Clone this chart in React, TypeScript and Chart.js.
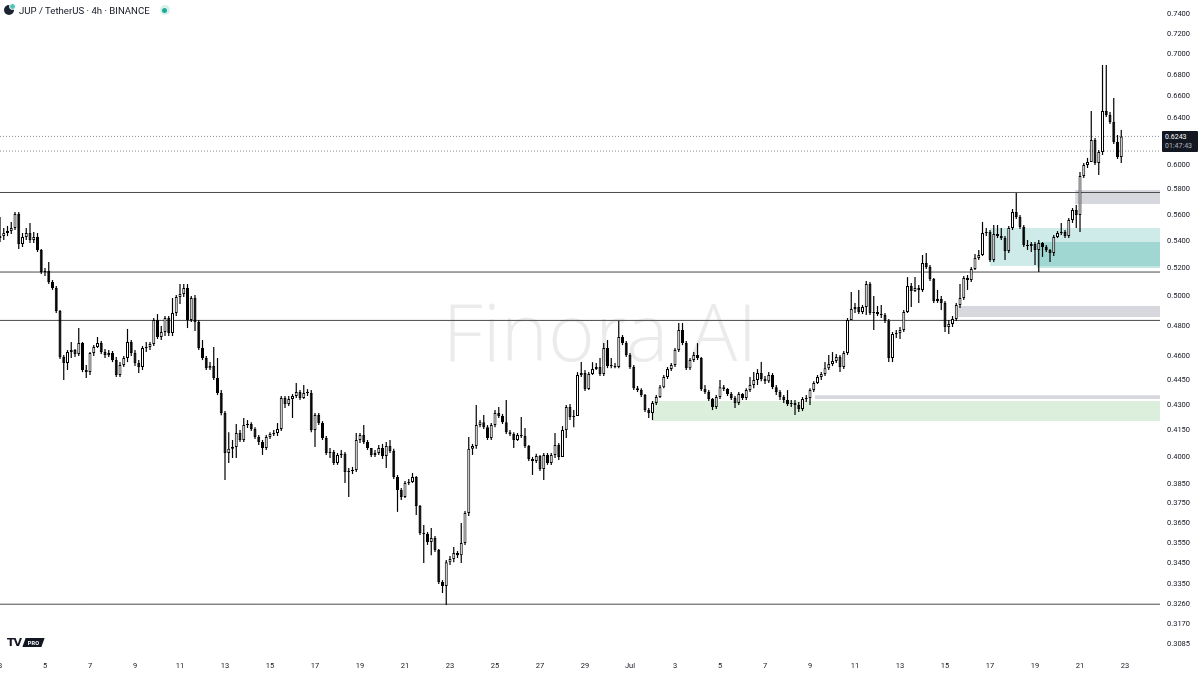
import React, { useEffect, useRef } from "react";
import { Chart, registerables } from "chart.js";

Chart.register(...registerables);

// ---- data (4h candles, JUP/USDT, Jun 3 00:00 -> Jul 22 20:00) ----
const firstOpen = 0.5421;

const closes: number[] = [
  0.5436, 0.5459, 0.5474, 0.5497, 0.5605, 0.5376, 0.5429, 0.5459, 0.5406, 0.5429,
  0.5332, 0.5172, 0.5179, 0.5100, 0.5058, 0.4898, 0.4595, 0.4557, 0.4627, 0.4640,
  0.4614, 0.4685, 0.4513, 0.4500, 0.4621, 0.4660, 0.4685, 0.4627, 0.4608, 0.4621,
  0.4576, 0.4482, 0.4544, 0.4589, 0.4692, 0.4621, 0.4557, 0.4532, 0.4653, 0.4660,
  0.4679, 0.4838, 0.4725, 0.4758, 0.4851, 0.4751, 0.4885, 0.4995, 0.5016, 0.5058,
  0.4838, 0.4988, 0.4825, 0.4653, 0.4589, 0.4525, 0.4538, 0.4463, 0.4371, 0.4251,
  0.4022, 0.4045, 0.4056, 0.4135, 0.4095, 0.4181, 0.4187, 0.4158, 0.4112, 0.4084,
  0.4050, 0.4112, 0.4129, 0.4135, 0.4158, 0.4341, 0.4305, 0.4335, 0.4353, 0.4377,
  0.4341, 0.4371, 0.4371, 0.4152, 0.4240, 0.4193, 0.4106, 0.4022, 0.4028, 0.3967,
  0.4011, 0.4017, 0.3917, 0.3923, 0.3928, 0.4095, 0.4124, 0.4084, 0.4050, 0.4011,
  0.4022, 0.4050, 0.4005, 0.4061, 0.4033, 0.3890, 0.3820, 0.3784, 0.3858, 0.3863,
  0.3890, 0.3737, 0.3599, 0.3594, 0.3554, 0.3574, 0.3515, 0.3362, 0.3343, 0.3456,
  0.3471, 0.3500, 0.3490, 0.3549, 0.3700, 0.4045, 0.4061, 0.4181, 0.4198, 0.4169,
  0.4106, 0.4181, 0.4251, 0.4234, 0.4198, 0.4140, 0.4129, 0.4095, 0.4124, 0.4118,
  0.4061, 0.3989, 0.3978, 0.4005, 0.3934, 0.4011, 0.3967, 0.4011, 0.4067, 0.4000,
  0.4152, 0.4287, 0.4228, 0.4234, 0.4482, 0.4494, 0.4395, 0.4488, 0.4519, 0.4532,
  0.4488, 0.4653, 0.4538, 0.4538, 0.4532, 0.4725, 0.4685, 0.4608, 0.4532, 0.4401,
  0.4389, 0.4359, 0.4269, 0.4251, 0.4311, 0.4347, 0.4407, 0.4469, 0.4519, 0.4544,
  0.4640, 0.4771, 0.4685, 0.4525, 0.4576, 0.4608, 0.4589, 0.4395, 0.4377, 0.4335,
  0.4287, 0.4347, 0.4407, 0.4395, 0.4365, 0.4341, 0.4311, 0.4365, 0.4341, 0.4389,
  0.4420, 0.4451, 0.4494, 0.4457, 0.4444, 0.4482, 0.4407, 0.4377, 0.4347, 0.4329,
  0.4305, 0.4311, 0.4299, 0.4275, 0.4335, 0.4341, 0.4389, 0.4432, 0.4469, 0.4488,
  0.4525, 0.4551, 0.4570, 0.4595, 0.4532, 0.4621, 0.4838, 0.4912, 0.4926, 0.4892,
  0.4926, 0.5086, 0.4885, 0.4892, 0.4878, 0.4871, 0.4831, 0.4589, 0.4745, 0.4751,
  0.4771, 0.4892, 0.5072, 0.5037, 0.5058, 0.5044, 0.5236, 0.5207, 0.5121, 0.4967,
  0.4981, 0.4954, 0.4791, 0.4811, 0.4845, 0.4940, 0.4988, 0.5128, 0.5114, 0.5193,
  0.5273, 0.5295, 0.5459, 0.5467, 0.5258, 0.5452, 0.5436, 0.5421, 0.5325, 0.5497,
  0.5621, 0.5582, 0.5505, 0.5369, 0.5361, 0.5376, 0.5332, 0.5384, 0.5354, 0.5332,
  0.5310, 0.5429, 0.5459, 0.5467, 0.5436, 0.5559, 0.5636, 0.5598, 0.5908, 0.6000,
  0.6025, 0.6212, 0.6017, 0.6109, 0.6467, 0.6432, 0.6370, 0.6195, 0.6067, 0.6243,
];

const highs: number[] = [
  0.5582, 0.5497, 0.5513, 0.5544, 0.5621, 0.5621, 0.5459, 0.5497, 0.5536, 0.5467,
  0.5459, 0.5339, 0.5200, 0.5244, 0.5114, 0.5072, 0.4905, 0.4608, 0.4640, 0.4692,
  0.4647, 0.4784, 0.4692, 0.4544, 0.4627, 0.4672, 0.4725, 0.4698, 0.4647, 0.4640,
  0.4634, 0.4595, 0.4563, 0.4602, 0.4778, 0.4705, 0.4640, 0.4576, 0.4666, 0.4692,
  0.4692, 0.4851, 0.4878, 0.4798, 0.4865, 0.4865, 0.4988, 0.5009, 0.5086, 0.5086,
  0.5086, 0.5002, 0.5009, 0.4838, 0.4705, 0.4602, 0.4563, 0.4660, 0.4589, 0.4389,
  0.4263, 0.4140, 0.4095, 0.4187, 0.4152, 0.4222, 0.4210, 0.4198, 0.4169, 0.4124,
  0.4095, 0.4124, 0.4140, 0.4152, 0.4193, 0.4353, 0.4353, 0.4353, 0.4365, 0.4432,
  0.4389, 0.4420, 0.4395, 0.4389, 0.4251, 0.4251, 0.4204, 0.4118, 0.4050, 0.4039,
  0.4022, 0.4039, 0.4028, 0.3939, 0.3945, 0.4135, 0.4135, 0.4181, 0.4095, 0.4050,
  0.4039, 0.4067, 0.4073, 0.4084, 0.4095, 0.4045, 0.3901, 0.3831, 0.3869, 0.3879,
  0.3912, 0.3896, 0.3742, 0.3639, 0.3604, 0.3624, 0.3584, 0.3520, 0.3371, 0.3466,
  0.3486, 0.3530, 0.3510, 0.3649, 0.3711, 0.4112, 0.4073, 0.4299, 0.4210, 0.4240,
  0.4181, 0.4193, 0.4269, 0.4287, 0.4246, 0.4329, 0.4152, 0.4140, 0.4135, 0.4228,
  0.4164, 0.4067, 0.4000, 0.4017, 0.4011, 0.4022, 0.4022, 0.4022, 0.4135, 0.4078,
  0.4175, 0.4299, 0.4305, 0.4269, 0.4500, 0.4563, 0.4513, 0.4500, 0.4563, 0.4557,
  0.4589, 0.4685, 0.4705, 0.4589, 0.4557, 0.4831, 0.4738, 0.4698, 0.4621, 0.4544,
  0.4414, 0.4401, 0.4365, 0.4281, 0.4323, 0.4359, 0.4420, 0.4482, 0.4532, 0.4557,
  0.4653, 0.4818, 0.4818, 0.4698, 0.4589, 0.4627, 0.4685, 0.4595, 0.4420, 0.4389,
  0.4341, 0.4359, 0.4451, 0.4420, 0.4401, 0.4377, 0.4353, 0.4377, 0.4371, 0.4401,
  0.4469, 0.4500, 0.4519, 0.4563, 0.4476, 0.4500, 0.4494, 0.4420, 0.4389, 0.4359,
  0.4389, 0.4329, 0.4329, 0.4317, 0.4347, 0.4359, 0.4401, 0.4444, 0.4482, 0.4500,
  0.4563, 0.4608, 0.4627, 0.4614, 0.4608, 0.4634, 0.4851, 0.5030, 0.4954, 0.5044,
  0.4940, 0.5107, 0.5100, 0.5002, 0.4933, 0.4940, 0.4885, 0.4845, 0.4758, 0.4771,
  0.4791, 0.4905, 0.5135, 0.5093, 0.5135, 0.5079, 0.5295, 0.5310, 0.5222, 0.5128,
  0.5044, 0.5002, 0.4967, 0.4838, 0.4865, 0.4954, 0.5086, 0.5143, 0.5150, 0.5207,
  0.5303, 0.5332, 0.5544, 0.5497, 0.5482, 0.5520, 0.5520, 0.5497, 0.5436, 0.5513,
  0.5644, 0.5771, 0.5598, 0.5520, 0.5406, 0.5391, 0.5391, 0.5406, 0.5391, 0.5369,
  0.5339, 0.5444, 0.5474, 0.5536, 0.5482, 0.5575, 0.5652, 0.5675, 0.5941, 0.6017,
  0.6059, 0.6467, 0.6229, 0.6126, 0.6894, 0.6894, 0.6458, 0.6585, 0.6255, 0.6299,
];

const lows: number[] = [
  0.5391, 0.5406, 0.5436, 0.5452, 0.5482, 0.5339, 0.5354, 0.5406, 0.5384, 0.5384,
  0.5317, 0.5157, 0.5143, 0.5086, 0.5044, 0.4885, 0.4582, 0.4451, 0.4513, 0.4589,
  0.4595, 0.4602, 0.4500, 0.4463, 0.4482, 0.4602, 0.4653, 0.4614, 0.4589, 0.4595,
  0.4563, 0.4469, 0.4469, 0.4532, 0.4563, 0.4602, 0.4538, 0.4494, 0.4513, 0.4627,
  0.4640, 0.4666, 0.4712, 0.4705, 0.4731, 0.4731, 0.4731, 0.4865, 0.4946, 0.4995,
  0.4784, 0.4825, 0.4765, 0.4640, 0.4576, 0.4513, 0.4513, 0.4451, 0.4359, 0.4239,
  0.3874, 0.3966, 0.3994, 0.3994, 0.4084, 0.4084, 0.4164, 0.4146, 0.4101, 0.4067,
  0.4011, 0.4039, 0.4101, 0.4118, 0.4118, 0.4146, 0.4281, 0.4293, 0.4222, 0.4341,
  0.4329, 0.4335, 0.4353, 0.4140, 0.4056, 0.4181, 0.4095, 0.4011, 0.3994, 0.3956,
  0.3956, 0.3994, 0.3858, 0.3783, 0.3906, 0.3917, 0.4078, 0.4073, 0.4039, 0.4000,
  0.4000, 0.4011, 0.3989, 0.3939, 0.4022, 0.3879, 0.3706, 0.3768, 0.3778, 0.3847,
  0.3858, 0.3690, 0.3589, 0.3452, 0.3540, 0.3490, 0.3505, 0.3353, 0.3311, 0.3256,
  0.3442, 0.3456, 0.3476, 0.3452, 0.3540, 0.3685, 0.4011, 0.4045, 0.4169, 0.4158,
  0.4095, 0.4095, 0.4169, 0.4222, 0.4187, 0.4129, 0.4118, 0.4050, 0.4090, 0.4106,
  0.4050, 0.3978, 0.3901, 0.3967, 0.3923, 0.3874, 0.3956, 0.3956, 0.3994, 0.3983,
  0.4039, 0.4106, 0.4210, 0.4169, 0.4246, 0.4469, 0.4383, 0.4389, 0.4482, 0.4513,
  0.4476, 0.4476, 0.4525, 0.4525, 0.4525, 0.4525, 0.4672, 0.4595, 0.4519, 0.4389,
  0.4377, 0.4347, 0.4257, 0.4222, 0.4210, 0.4299, 0.4341, 0.4401, 0.4457, 0.4507,
  0.4532, 0.4627, 0.4672, 0.4513, 0.4513, 0.4563, 0.4576, 0.4383, 0.4365, 0.4323,
  0.4269, 0.4275, 0.4335, 0.4383, 0.4353, 0.4329, 0.4281, 0.4299, 0.4329, 0.4329,
  0.4377, 0.4401, 0.4420, 0.4444, 0.4426, 0.4432, 0.4395, 0.4359, 0.4329, 0.4311,
  0.4293, 0.4287, 0.4240, 0.4257, 0.4263, 0.4317, 0.4299, 0.4377, 0.4426, 0.4451,
  0.4476, 0.4513, 0.4538, 0.4557, 0.4500, 0.4519, 0.4608, 0.4838, 0.4885, 0.4878,
  0.4878, 0.4871, 0.4871, 0.4771, 0.4865, 0.4851, 0.4818, 0.4563, 0.4563, 0.4718,
  0.4712, 0.4758, 0.4885, 0.4926, 0.5030, 0.4954, 0.5030, 0.5193, 0.5107, 0.4954,
  0.4954, 0.4905, 0.4758, 0.4745, 0.4791, 0.4831, 0.4919, 0.4974, 0.5044, 0.5100,
  0.5185, 0.5258, 0.5288, 0.5436, 0.5244, 0.5244, 0.5421, 0.5406, 0.5258, 0.5310,
  0.5482, 0.5567, 0.5490, 0.5354, 0.5332, 0.5317, 0.5222, 0.5172, 0.5281, 0.5317,
  0.5244, 0.5288, 0.5421, 0.5444, 0.5421, 0.5421, 0.5536, 0.5497, 0.5467, 0.5892,
  0.5975, 0.6025, 0.6000, 0.5917, 0.6084, 0.6414, 0.6352, 0.6178, 0.6050, 0.6017,
];

const priceTicks: number[] = [
  0.74, 0.72, 0.7, 0.68, 0.66, 0.64, 0.6, 0.58, 0.56, 0.54, 0.52, 0.5, 0.48, 0.46,
  0.445, 0.43, 0.415, 0.4, 0.385, 0.375, 0.365, 0.355, 0.345, 0.335, 0.326, 0.317, 0.3085,
];

const dateLabels: string[] = [
  "3", "5", "7", "9", "11", "13", "15", "17", "19", "21", "23", "25", "27", "29",
  "Jul", "3", "5", "7", "9", "11", "13", "15", "17", "19", "21", "23",
];
const candlesPerLabel = 12; // 2 days of 4h candles

const levelPrices: number[] = [0.5775, 0.5171, 0.4835, 0.326];

// zones: start candle index, top price, bottom price
const zoneStarts: number[] = [286.7, 264, 276.5, 255.5, 217.3, 174];
const zoneTops: number[] = [0.5795, 0.5497, 0.5391, 0.4933, 0.4358, 0.4323];
const zoneBottoms: number[] = [0.5684, 0.5214, 0.52, 0.4858, 0.4335, 0.4205];

const lastPrice = 0.6243;
const secondPrice = 0.6117;
const countdown = "01:47:43";

const Y_MIN = 0.3038;
const Y_MAX = 0.7545;
const X_MAX = 309.33;

const zoneColors = [
  "rgba(150,153,165,0.38)",
  "rgba(38,166,154,0.22)",
  "rgba(38,166,154,0.28)",
  "rgba(150,153,165,0.38)",
  "rgba(150,153,165,0.38)",
  "rgba(76,175,80,0.2)",
];

const watermark = {
  id: "watermark",
  beforeDatasetsDraw(chart: any) {
    const { ctx } = chart;
    ctx.save();
    ctx.font = '300 80px "Open Sans", sans-serif';
    ctx.fillStyle = "rgba(0,0,0,0.08)";
    ctx.textAlign = "center";
    ctx.textBaseline = "middle";
    ctx.fillText("Finora AI", 600, 338);
    ctx.restore();
  },
};

export default function App() {
  const ref = useRef<HTMLCanvasElement>(null);

  useEffect(() => {
    document.body.style.margin = "0";
    const canvas = ref.current;
    if (!canvas) return;

    const opens = closes.map((_, i) => (i === 0 ? firstOpen : closes[i - 1]));
    const bodies = closes.map((c, i) => ({ x: i, y: [opens[i], c] }));
    const wicks = closes.map((_, i) => ({ x: i, y: [lows[i], highs[i]] }));
    const bodyFill = closes.map((c, i) => (c >= opens[i] ? "#ffffff" : "#000000"));

    const datasets: any[] = [
      {
        type: "bar",
        data: bodies,
        backgroundColor: bodyFill,
        borderColor: "#000000",
        borderWidth: 1,
        borderSkipped: false,
        barThickness: 3,
        grouped: false,
        minBarLength: 1,
        inflateAmount: 0,
        order: 0,
      },
      {
        type: "bar",
        data: wicks,
        backgroundColor: "#000000",
        borderWidth: 0,
        barThickness: 1.2,
        grouped: false,
        inflateAmount: 0,
        order: 1,
      },
    ];

    levelPrices.forEach((p) => {
      datasets.push({
        type: "line",
        data: [{ x: 0, y: p }, { x: X_MAX, y: p }],
        borderColor: "#4a4a4a",
        borderWidth: 1,
        pointRadius: 0,
        fill: false,
        order: 2,
      });
    });

    [lastPrice, secondPrice].forEach((p) => {
      datasets.push({
        type: "line",
        data: [{ x: 0, y: p }, { x: X_MAX, y: p }],
        borderColor: "#8a8d96",
        borderWidth: 1,
        borderDash: [1, 2],
        pointRadius: 0,
        fill: false,
        order: 3,
      });
    });

    zoneStarts.forEach((s, k) => {
      datasets.push({
        type: "line",
        data: [{ x: s, y: zoneTops[k] }, { x: X_MAX, y: zoneTops[k] }],
        borderWidth: 0,
        pointRadius: 0,
        backgroundColor: zoneColors[k],
        fill: "+1",
        order: 10,
      });
      datasets.push({
        type: "line",
        data: [{ x: s, y: zoneBottoms[k] }, { x: X_MAX, y: zoneBottoms[k] }],
        borderWidth: 0,
        pointRadius: 0,
        fill: false,
        order: 10,
      });
    });

    const tickFont = { family: "Roboto, sans-serif", size: 7.5 };

    const chart = new Chart(canvas, {
      type: "bar",
      data: { datasets },
      options: {
        animation: false,
        responsive: false,
        events: [],
        layout: { padding: 0, autoPadding: false },
        plugins: {
          legend: { display: false },
          tooltip: { enabled: false },
          title: { display: false },
        },
        scales: {
          x: {
            type: "linear",
            min: 0,
            max: X_MAX,
            offset: false,
            grid: { display: false, drawTicks: false },
            border: { display: false },
            afterBuildTicks: (s: any) => {
              s.ticks = dateLabels.map((_, k) => ({ value: k * candlesPerLabel }));
            },
            afterFit: (s: any) => {
              s.height = 20;
              s.paddingLeft = 0;
              s.paddingRight = 0;
            },
            ticks: {
              autoSkip: false,
              maxRotation: 0,
              padding: 7,
              color: "#131722",
              font: tickFont,
              callback: (_v: any, idx: number) => dateLabels[idx],
            },
          },
          y: {
            type: "logarithmic",
            position: "right",
            min: Y_MIN,
            max: Y_MAX,
            grid: { display: false, drawTicks: false },
            border: { display: false },
            afterBuildTicks: (s: any) => {
              s.ticks = priceTicks.map((v) => ({ value: v }));
            },
            afterFit: (s: any) => {
              s.width = 40;
              s.paddingTop = 0;
              s.paddingBottom = 0;
            },
            ticks: {
              autoSkip: false,
              padding: 7,
              color: "#131722",
              font: tickFont,
              callback: (v: any) => Number(v).toFixed(4),
            },
          },
        },
      } as any,
      plugins: [watermark],
    });

    return () => chart.destroy();
  }, []);

  return (
    <div
      style={{
        position: "relative",
        width: 1200,
        height: 675,
        background: "#ffffff",
        overflow: "hidden",
        fontFamily: "Roboto, sans-serif",
      }}
    >
      <canvas ref={ref} width={1200} height={675} style={{ position: "absolute", left: 0, top: 0 }} />

      {/* symbol header */}
      <div
        style={{
          position: "absolute",
          left: 4,
          top: 4,
          height: 12,
          display: "flex",
          alignItems: "center",
          fontSize: 9.6,
          color: "#131722",
          whiteSpace: "nowrap",
        }}
      >
        <span
          style={{
            position: "relative",
            display: "inline-block",
            width: 10,
            height: 10,
            borderRadius: "50%",
            background: "#1b2433",
            marginRight: 5,
          }}
        >
          <span
            style={{
              position: "absolute",
              right: -2,
              top: -2,
              width: 5,
              height: 5,
              borderRadius: "50%",
              background: "#57c3b6",
              border: "1px solid #ffffff",
            }}
          />
        </span>
        <span>JUP / TetherUS · 4h · BINANCE</span>
        <span
          style={{
            marginLeft: 10,
            width: 10,
            height: 10,
            borderRadius: "50%",
            background: "rgba(34,171,148,0.18)",
            display: "inline-flex",
            alignItems: "center",
            justifyContent: "center",
          }}
        >
          <span style={{ width: 5, height: 5, borderRadius: "50%", background: "#22ab94" }} />
        </span>
      </div>

      {/* last price label */}
      <div
        style={{
          position: "absolute",
          left: 1162,
          top: 131,
          width: 36,
          height: 21,
          background: "#131722",
          borderRadius: 1,
          fontSize: 7,
          lineHeight: "9px",
          padding: "2px 0 0 3px",
          boxSizing: "border-box",
        }}
      >
        <div style={{ color: "#ffffff" }}>{lastPrice.toFixed(4)}</div>
        <div style={{ color: "#b2b5be" }}>{countdown}</div>
      </div>

      {/* TradingView PRO mark */}
      <div
        style={{
          position: "absolute",
          left: 7,
          top: 637,
          height: 11,
          display: "flex",
          alignItems: "center",
        }}
      >
        <span
          style={{
            fontFamily: "'DejaVu Sans', sans-serif",
            fontWeight: 900,
            fontSize: 11,
            letterSpacing: -1,
            color: "#131722",
            marginRight: 3,
          }}
        >
          TV
        </span>
        <span
          style={{
            display: "inline-flex",
            alignItems: "center",
            justifyContent: "center",
            width: 19,
            height: 9,
            background: "#131722",
            transform: "skewX(-20deg)",
          }}
        >
          <span
            style={{
              transform: "skewX(20deg)",
              color: "#ffffff",
              fontSize: 5.5,
              fontWeight: 700,
              letterSpacing: 0.2,
            }}
          >
            PRO
          </span>
        </span>
      </div>
    </div>
  );
}
